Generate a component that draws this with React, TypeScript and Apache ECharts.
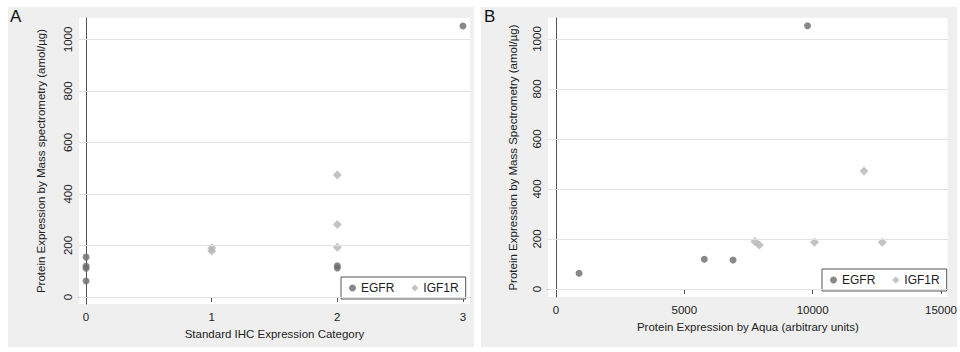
import React, { useEffect, useRef } from "react";
import * as echarts from "echarts";

// Panel A: Standard IHC category vs mass spectrometry
const egfrA: [number, number][] = [
  [0, 155], [0, 120], [0, 112], [0, 62],
  [2, 121], [2, 113],
  [3, 1052],
];
const igf1rA: [number, number][] = [
  [1, 190], [1, 179],
  [2, 474], [2, 282], [2, 193],
];
// Panel B: AQUA vs mass spectrometry
const egfrB: [number, number][] = [
  [900, 63], [5780, 119], [6900, 116], [9800, 1053],
];
const igf1rB: [number, number][] = [
  [7750, 190], [7920, 176], [10070, 187], [12710, 187], [12000, 472],
];
const yTicks = [0, 200, 400, 600, 800, 1000];
const xTicksA = [0, 1, 2, 3];
const xTicksB = [0, 5000, 10000, 15000];

const FONT = "Liberation Sans, Arial, Helvetica, sans-serif";
const DARK = "#6b6b6b";
const LIGHT = "#b4b4b4";
const AXIS = "#555555";
const TEXT = "#222222";

const plain = (v: number) => String(v);

export default function App() {
  const ref = useRef<HTMLDivElement>(null);
  useEffect(() => {
    if (!ref.current) return;
    const chart = echarts.init(ref.current, null, { renderer: "svg" });
    const yAxis = (gridIndex: number, name: string, min: number, max: number, gap: number) => ({
      type: "value",
      gridIndex,
      min,
      max,
      name,
      nameLocation: "middle",
      nameGap: gap,
      nameTextStyle: { fontFamily: FONT, fontSize: 11.5, color: TEXT },
      axisLine: { show: true, lineStyle: { color: AXIS, width: 1 } },
      axisTick: { show: true, length: 5, lineStyle: { color: AXIS }, customValues: yTicks },
      splitLine: { show: false },
      axisLabel: {
        customValues: yTicks,
        formatter: plain,
        rotate: 90,
        margin: 5,
        fontFamily: FONT,
        fontSize: 11.5,
        color: TEXT,
      },
    });
    const xAxis = (gridIndex: number, name: string, min: number, max: number, ticks: number[], gap: number) => ({
      type: "value",
      gridIndex,
      min,
      max,
      name,
      nameLocation: "middle",
      nameGap: gap,
      nameTextStyle: { fontFamily: FONT, fontSize: 11.5, color: TEXT },
      axisLine: { show: true, lineStyle: { color: AXIS, width: 1 } },
      axisTick: { show: true, length: 5, lineStyle: { color: AXIS }, customValues: ticks },
      splitLine: { show: false },
      axisLabel: { customValues: ticks, formatter: plain, margin: 7, fontFamily: FONT, fontSize: 11.5, color: TEXT },
    });
    const gridLine = (values: number[]) => ({
      silent: true,
      symbol: ["none", "none"],
      label: { show: false },
      emphasis: { disabled: true },
      lineStyle: { color: "#e2e2e2", width: 1.2, type: "solid" },
      data: values.map((v) => ({ yAxis: v })),
    });
    const legend = (left: number, top: number) => ({
      left,
      top,
      orient: "horizontal",
      data: [
        { name: "EGFR", icon: "circle" },
        { name: "IGF1R", icon: "diamond" },
      ],
      itemWidth: 7,
      itemHeight: 7,
      itemGap: 17,
      padding: [5, 7, 5, 8],
      borderColor: AXIS,
      borderWidth: 1,
      backgroundColor: "#ffffff",
      textStyle: { fontFamily: FONT, fontSize: 12, color: TEXT },
      selectedMode: false,
    });
    chart.setOption({
      animation: false,
      backgroundColor: "#ffffff",
      graphic: [
        { type: "rect", z: -10, shape: { x: 8, y: 7, width: 466, height: 340 }, style: { fill: "#efefef" } },
        { type: "rect", z: -10, shape: { x: 481, y: 7, width: 476, height: 340 }, style: { fill: "#efefef" } },
        { type: "text", left: 10, top: 8, style: { text: "A", fontFamily: FONT, fontSize: 17, fill: "#111" } },
        { type: "text", left: 484, top: 8, style: { text: "B", fontFamily: FONT, fontSize: 17, fill: "#111" } },
      ],
      grid: [
        { left: 79, right: 490, top: 18, bottom: 48, show: true, backgroundColor: "#ffffff", borderWidth: 0 },
        { left: 548, right: 8, top: 18, bottom: 55, show: true, backgroundColor: "#ffffff", borderWidth: 0 },
      ],
      xAxis: [
        xAxis(0, "Standard IHC Expression Category", -0.056, 3.056, xTicksA, 21),
        xAxis(1, "Protein Expression by Aqua (arbitrary units)", -310, 15260, xTicksB, 22),
      ],
      yAxis: [
        yAxis(0, "Protein Expression by Mass spectrometry (amol/\u00b5g)", -27, 1083, 32),
        yAxis(1, "Protein Expression by Mass Spectrometry (amol/\u00b5g)", -32, 1084, 29),
      ],
      legend: [legend(341, 277), legend(822, 269)],
      series: [
        {
          name: "EGFR", type: "scatter", xAxisIndex: 0, yAxisIndex: 0, data: egfrA,
          symbol: "circle", symbolSize: 7, itemStyle: { color: DARK }, z: 3,
          markLine: gridLine(yTicks),
        },
        {
          name: "IGF1R", type: "scatter", xAxisIndex: 0, yAxisIndex: 0, data: igf1rA,
          symbol: "diamond", symbolSize: 9, itemStyle: { color: LIGHT }, z: 3,
        },
        {
          name: "EGFR", type: "scatter", xAxisIndex: 1, yAxisIndex: 1, data: egfrB,
          symbol: "circle", symbolSize: 7, itemStyle: { color: DARK }, z: 3,
          markLine: gridLine(yTicks),
        },
        {
          name: "IGF1R", type: "scatter", xAxisIndex: 1, yAxisIndex: 1, data: igf1rB,
          symbol: "diamond", symbolSize: 9, itemStyle: { color: LIGHT }, z: 3,
        },
      ],
    });
    return () => chart.dispose();
  }, []);
  return (
    <div
      ref={ref}
      style={{ position: "fixed", left: 0, top: 0, width: 960, height: 352 }}
    />
  );
}
